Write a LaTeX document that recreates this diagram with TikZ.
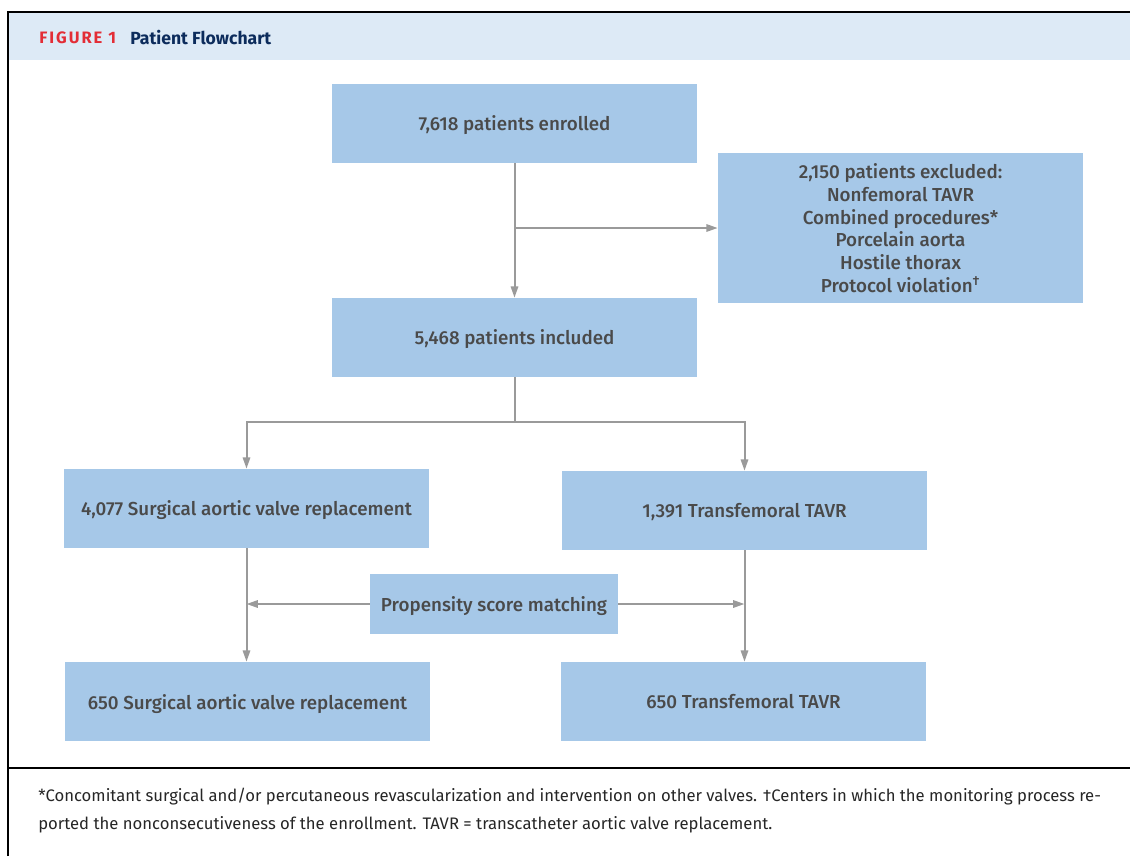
\documentclass[tikz,border=0pt]{standalone}
\usepackage{fontspec}
\setmainfont{Fira Sans}
\newfontfamily\medfont{Fira Sans Medium}
\newfontfamily\figfont[LetterSpace=12]{Fira Sans Bold}
\usetikzlibrary{arrows.meta,positioning}
\definecolor{boxblue}{HTML}{A6C8E8}
\definecolor{headblue}{HTML}{DDEAF6}
\definecolor{txtgray}{HTML}{4A4A4A}
\definecolor{arrgray}{HTML}{9A9A9A}
\definecolor{figred}{HTML}{E32D36}
\definecolor{navy}{HTML}{0C2C5C}
\begin{document}
\begin{tikzpicture}[x=0.75pt,y=-0.75pt,
  box/.style={fill=boxblue, draw=none, text=txtgray, align=center, inner sep=0pt, text depth=0pt,
    font=\medfont\fontsize{14.1pt}{17pt}\selectfont, minimum width=273.75pt, minimum height=59.25pt},
  conn/.style={draw=arrgray, line width=1.5pt},
  arr/.style={conn, -{Triangle[length=8.5pt,width=5.5pt]}}]
\useasboundingbox (0,0) rectangle (1130,856);
% frame and header
\fill[headblue] (9,13) rectangle (1130,60);
\draw[black, line width=1.5pt] (8,856) -- (8,12) -- (1130,12);
\draw[black, line width=1.5pt] (8,768) -- (1130,768);
\node[anchor=west, inner sep=0pt, text=figred, font=\figfont\fontsize{12.4pt}{14pt}\selectfont] (figlbl) at (39,38) {FIGURE 1};
\node[anchor=west, inner sep=0pt, text=navy, font=\fontsize{13.2pt}{15pt}\selectfont\bfseries] (figttl) at (130,38) {Patient Flowchart};
% boxes
\node[box] (enr) at (514.5,123.5) {7,618 patients enrolled};
\node[box, minimum height=112.5pt, text depth=-1.5pt] (exc) at (900.5,228) {2,150 patients excluded:\\Nonfemoral TAVR\\Combined procedures*\\Porcelain aorta\\Hostile thorax\\Protocol violation\textsuperscript{\dag}};
\node[box] (inc) at (514.5,337.5) {5,468 patients included};
\node[box] (savr) at (246.5,508.5) {4,077 Surgical aortic valve replacement};
\node[box] (tf) at (744.5,510.5) {1,391 Transfemoral TAVR};
\node[box, minimum width=186pt, minimum height=45pt] (psm) at (494,604) {Propensity score matching};
\node[box] (savr2) at (247.5,701.5) {650 Surgical aortic valve replacement};
\node[box] (tf2) at (743.5,701.5) {650 Transfemoral TAVR};
% connectors
\coordinate (j1) at (514.5,228);
\coordinate (j2) at (514.5,422);
\coordinate (jl) at (246.5,422);
\coordinate (jr) at (744.5,422);
\draw[arr] (enr.south) -- (inc.north);
\draw[arr] (j1) -- (j1 -| exc.west);
\draw[conn] (inc.south) -- (j2);
\draw[conn] (jl) -- (jr);
\draw[arr] ([yshift=0.75pt]jl) -- (savr.north);
\draw[arr] ([yshift=0.75pt]jr) -- (tf.north);
\draw[arr] (savr.south) -- (savr.south |- savr2.north);
\draw[arr] (tf.south) -- (tf.south |- tf2.north);
\draw[arr] (psm.west) -- (psm.west -| savr.south);
\draw[arr] (psm.east) -- (psm.east -| tf.south);
% footer
\node[anchor=north west, inner sep=0pt, align=left, text=black!85, font=\fontsize{12.5pt}{21pt}\selectfont] (foot) at (38,788) {*Concomitant surgical and/or percutaneous revascularization and intervention on other valves. \dag Centers in which the monitoring process re-\\ported the nonconsecutiveness of the enrollment. TAVR = transcatheter aortic valve replacement.};
\end{tikzpicture}
\end{document}
